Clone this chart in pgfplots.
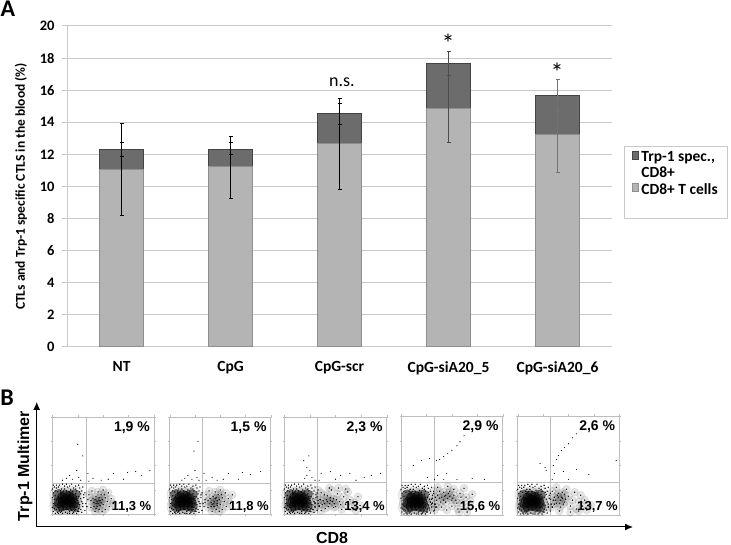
\documentclass[border=0pt]{standalone}
\usepackage{pgfplots}
\usepackage{pgfplotstable}
\usepackage{fontspec}
\pgfplotsset{compat=1.18}
\usetikzlibrary{arrows.meta,calc}
\setmainfont{Carlito}
\newfontfamily\arialf{Liberation Sans}
\definecolor{gridc}{HTML}{C9C9C9}
\definecolor{lightb}{HTML}{B4B4B4}
\definecolor{lightl}{HTML}{8E8E8E}
\definecolor{darkb}{HTML}{6C6C6C}
\definecolor{darkl}{HTML}{444444}
\definecolor{pan}{HTML}{BEBEBE}
\pgfplotstableread{
x y
14 15
11 13
17 13
13 19
16 18
10 17
19 16
14 10
10 9
18 9
7 12
21 12
6 8
22 8
6 20
22 20
}\coreT
\pgfplotstableread{
x y
1 3
3 9
2 15
1 22
4 27
7 30
2 28
5 2
9 3
13 2
17 3
21 2
25 3
28 5
24 7
27 10
25 14
29 13
26 18
28 21
24 24
21 27
18 25
15 28
12 29
9 26
3 19
1 11
4 5
7 4
11 5
15 5
19 5
23 5
26 6
30 8
31 17
29 24
27 27
23 29
19 31
14 31
10 31
6 28
0 7
0 17
0 26
3 24
2 6
6 1
10 1
15 1
20 1
24 1
29 2
32 4
33 11
32 22
30 28
26 30
17 29
12 26
8 24
4 30
1 30
23 26
27 23
31 20
34 8
35 15
28 16
30 11
26 3
22 4
17 1
8 2
3 1
5 10
4 14
6 18
5 23
8 22
11 24
14 24
17 23
20 23
23 21
24 18
24 11
22 8
6 7
}\haloT
\pgfplotstableread{
x y
38 7
41 12
44 8
47 14
50 10
43 18
48 20
52 17
40 16
45 23
50 25
54 13
56 8
36 20
39 24
46 5
52 5
58 16
42 3
49 3
44 13
47 9
46 17
49 15
43 11
41 8
51 20
38 14
55 22
60 11
42 15
45 11
48 12
46 14
43 6
}\rightA
\pgfplotstableread{
x y
35 12
38 7
41 12
44 8
47 14
50 10
43 18
48 20
52 17
40 16
45 23
50 25
54 13
56 8
36 20
39 24
46 5
52 5
58 16
42 3
49 3
44 13
47 9
46 17
49 15
43 11
41 8
51 20
38 14
55 22
60 11
62 20
45 16
42 10
47 11
}\rightB
\pgfplotstableread{
x y
28 5
30 12
32 18
34 9
36 22
38 14
40 6
42 19
44 11
46 25
48 16
50 8
52 21
54 13
56 5
58 18
60 10
62 23
64 15
66 7
68 12
70 4
72 18
74 9
37 10
41 15
45 17
43 8
47 13
39 20
35 15
49 11
33 25
44 27
53 27
60 26
30 7
33 14
36 4
39 11
42 13
45 14
48 7
51 15
55 10
}\rightC
\pgfplotstableread{
x y
28 7
30 16
32 24
34 11
36 28
38 17
40 8
42 23
44 13
46 29
48 19
50 9
52 26
54 15
56 6
58 22
60 12
62 27
64 18
66 8
68 14
70 21
36 20
40 18
44 20
48 24
52 20
38 24
42 15
46 17
34 18
50 15
33 5
45 5
57 3
65 3
31 12
35 8
39 13
43 19
47 22
51 17
55 12
59 18
}\rightD
\pgfplotstableread{
x y
30 8
32 16
34 24
36 11
38 28
40 18
42 8
44 23
46 13
48 26
50 19
52 9
54 15
56 23
58 6
60 13
62 20
64 9
66 15
68 5
36 18
40 22
42 15
38 12
44 17
46 21
34 8
41 4
52 3
60 4
72 10
37 15
39 20
41 12
43 18
45 11
47 16
}\rightE
\pgfplotstableread{
x y
20 36
24 45
26 38
28 35
17 40
30 60
25 72
14 37
36 34
40 37
48 35
60 42
74 43
82 44
88 40
55 36
70 36
10 35
35 42
96 45
}\sparseA
\pgfplotstableread{
x y
22 36
25 45
27 38
29 35
18 40
28 75
24 65
15 37
36 35
42 38
47 35
58 42
72 43
80 41
90 44
53 36
68 36
12 35
34 42
}\sparseB
\pgfplotstableread{
x y
20 37
22 40
25 45
27 38
30 35
19 55
24 60
22 48
36 42
45 44
55 40
64 42
78 38
85 40
94 42
34 35
50 36
70 35
}\sparseC
\pgfplotstableread{
x y
35 55
38 56
42 59
46 62
50 65
55 70
58 74
62 80
20 55
28 57
12 50
36 40
42 36
55 36
70 37
82 36
26 38
33 36
45 42
}\sparseD
\pgfplotstableread{
x y
35 50
38 56
40 60
43 65
46 68
50 72
54 78
58 82
22 52
27 48
28 45
36 42
45 44
58 46
70 41
97 55
34 36
50 36
}\sparseE
\newcommand{\panel}[9]{%
\begin{axis}[at={(#1pt,#2pt)},anchor=south west,scale only axis,width=#3pt,height=#4pt,
 xmin=0,xmax=100,ymin=0,ymax=100,
 axis line style={draw=pan,line width=0.6pt},
 xtick={0,25,50,75,100},ytick={0,25,50,75,100},
 xticklabels={},yticklabels={},
 tick style={draw=pan,line width=0.4pt},tick align=outside,major tick length=1.5pt,
 clip=true]
\addplot[only marks,mark=*,mark size=9pt,opacity=0.08,mark options={draw=none,fill=black}] table {\coreT};
\addplot[only marks,mark=*,mark size=5.5pt,opacity=0.45,mark options={draw=none,fill=black}] table {\coreT};
\addplot[only marks,mark=*,mark size=0.4pt,mark options={draw=none,fill=black}] table {\haloT};
\addplot[only marks,mark=*,mark size=4pt,opacity=0.1,mark options={draw=none,fill=black}] table {#7};
\addplot[only marks,mark=*,mark size=0.4pt,mark options={draw=none,fill=black!85}] table {#7};
\addplot[only marks,mark=*,mark size=0.28pt,mark options={draw=none,fill=black!55}] table {#8};
\addplot[pan,line width=0.7pt] coordinates {(#5,0) (#5,100)};
\addplot[pan,line width=0.7pt] coordinates {(0,#6) (100,#6)};
\end{axis}%
\node[anchor=east,font=\arialf\bfseries\fontsize{14}{16}\selectfont,inner sep=0pt] at ($(#1pt,#2pt)+(#3pt,#4pt)+(-4pt,-10.5pt)$) {#9};%
}
\begin{document}
\begin{tikzpicture}
\useasboundingbox (0,0) rectangle (731pt,545pt);
\begin{axis}[at={(67pt,198pt)},anchor=south west,scale only axis,width=545pt,height=321pt,
 ybar stacked,bar width=44pt,
 xmin=-0.5,xmax=4.5,ymin=0,ymax=20,
 xtick={0,1,2,3,4},
 xticklabels={NT,CpG,CpG-scr,CpG-siA20\_5,CpG-siA20\_6},
 ytick={0,2,...,20},
 ymajorgrids,
 grid style={draw=gridc,line width=1pt},
 axis x line=bottom,axis y line=left,
 axis line style={draw=gridc,line width=1pt,-},
 y tick style={draw=gridc,line width=1pt},
 x tick style={draw=none},
 tick align=outside,major tick length=5pt,
 /pgf/number format/assume math mode=true,
 xticklabel style={font=\bfseries\fontsize{15.5}{18}\selectfont,yshift=-6pt},
 yticklabel style={font=\bfseries\fontsize{14.5}{16}\selectfont,xshift=-4pt},
 ylabel={CTLs and Trp-1 specific CTLS in the blood (\%)},
 ylabel shift=6pt,
 ylabel style={font=\bfseries\fontsize{13.5}{16}\selectfont},
 legend cell align=left,
 reverse legend,
 legend style={at={(1.022,0.626)},anchor=north west,draw=gridc,line width=0.8pt,
  font=\bfseries\fontsize{15.5}{17}\selectfont,inner xsep=8pt,inner ysep=3pt,row sep=0pt,
  /tikz/every even column/.append style={column sep=5pt}},
]
\addlegendimage{empty legend}
\addlegendentry{\rule{0pt}{12pt}}
\addplot[fill=lightb,draw=lightl,line width=1pt] coordinates {(0,11.06) (1,11.23) (2,12.67) (3,14.85) (4,13.23)};
\addlegendentry{CD8+ T cells}
\addlegendimage{empty legend}
\addlegendentry{CD8+}
\addplot[fill=darkb,draw=darkl,line width=1pt] coordinates {(0,1.27) (1,1.10) (2,1.89) (3,2.82) (4,2.45)};
\addlegendentry{Trp-1 spec.,}
\end{axis}
\begin{axis}[at={(67pt,198pt)},anchor=south west,scale only axis,width=545pt,height=321pt,
 xmin=-0.5,xmax=4.5,ymin=0,ymax=20,hide axis,clip=false]
\addplot[draw=none,mark=none,error bars/.cd,y dir=both,y explicit,
 error bar style={draw=black,line width=0.6pt},error mark options={draw=black,rotate=90,mark size=2pt,line width=0.6pt}]
 table[x=x,y=y,y error=e] {
x y e
0 11.06 2.87
1 11.20 1.91
2 12.67 2.85
};
\addplot[draw=none,mark=none,error bars/.cd,y dir=both,y explicit,
 error bar style={draw=black,line width=0.6pt},error mark options={draw=black,rotate=90,mark size=2pt,line width=0.6pt}]
 table[x=x,y=y,y error=e] {
x y e
0 12.33 0.42
1 12.36 0.38
2 14.53 0.65
};
\addplot[draw=none,mark=none,error bars/.cd,y dir=both,y explicit,
 error bar style={draw=black!70,line width=0.7pt},error mark options={draw=black!70,rotate=90,mark size=2pt,line width=0.7pt}]
 table[x=x,y=y,y error=e] {
x y e
3 14.85 2.10
3 17.67 0.72
};
\addplot[draw=none,mark=none,error bars/.cd,y dir=both,y explicit,
 error bar style={draw=black!55,line width=0.7pt},error mark options={draw=black!55,rotate=90,mark size=2pt,line width=0.7pt}]
 table[x=x,y=y,y error=e] {
x y e
4 13.23 2.33
4 15.70 0.95
};
\end{axis}
\panel{52.3}{30.7}{101.7}{97.3}{33}{32}{\rightA}{\sparseA}{1,9 \%}
\panel{169.7}{30.7}{101}{97.3}{32}{32}{\rightB}{\sparseB}{1,5 \%}
\panel{284.3}{30.7}{102.4}{97.3}{32.6}{33}{\rightC}{\sparseC}{2,3 \%}
\panel{401}{30}{101.7}{99}{32.5}{32.5}{\rightD}{\sparseD}{2,9 \%}
\panel{517.7}{30}{101.6}{99}{32.2}{32.5}{\rightE}{\sparseE}{2,6 \%}
\begin{scope}[x=1pt,y=1pt]
\node[font=\fontsize{18}{20}\selectfont,inner sep=0pt] at (342,462.5) {n.s.};
\node[font=\fontsize{26}{26}\selectfont,inner sep=0pt] at (448,502) {*};
\node[font=\fontsize{26}{26}\selectfont,inner sep=0pt] at (557,473) {*};
\node[font=\bfseries\fontsize{24}{24}\selectfont,inner sep=0pt] at (8,536) {A};
\node[font=\bfseries\fontsize{24}{24}\selectfont,inner sep=0pt] at (7,147) {B};
\node[anchor=east,font=\arialf\bfseries\fontsize{13}{15}\selectfont,inner sep=0pt] at (151.5,38) {11,3 \%};
\node[anchor=east,font=\arialf\bfseries\fontsize{13}{15}\selectfont,inner sep=0pt] at (269,38) {11,8 \%};
\node[anchor=east,font=\arialf\bfseries\fontsize{13}{15}\selectfont,inner sep=0pt] at (385,38) {13,4 \%};
\node[anchor=east,font=\arialf\bfseries\fontsize{13}{15}\selectfont,inner sep=0pt] at (500.5,38) {15,6 \%};
\node[anchor=east,font=\arialf\bfseries\fontsize{13}{15}\selectfont,inner sep=0pt] at (618,38) {13,7 \%};
\draw[line width=1pt,-{Latex[length=8pt,width=7pt]}] (36.7,18) -- (633,18);
\draw[line width=1pt,-{Latex[length=8pt,width=7pt]}] (36.7,18) -- (36.7,143);
\node[rotate=90,font=\arialf\bfseries\fontsize{16}{18}\selectfont,inner sep=0pt] at (25,79) {Trp-1 Multimer};
\node[font=\arialf\bfseries\fontsize{16}{18}\selectfont,inner sep=0pt] at (332,7.5) {CD8};
\end{scope}
\end{tikzpicture}
\end{document}
